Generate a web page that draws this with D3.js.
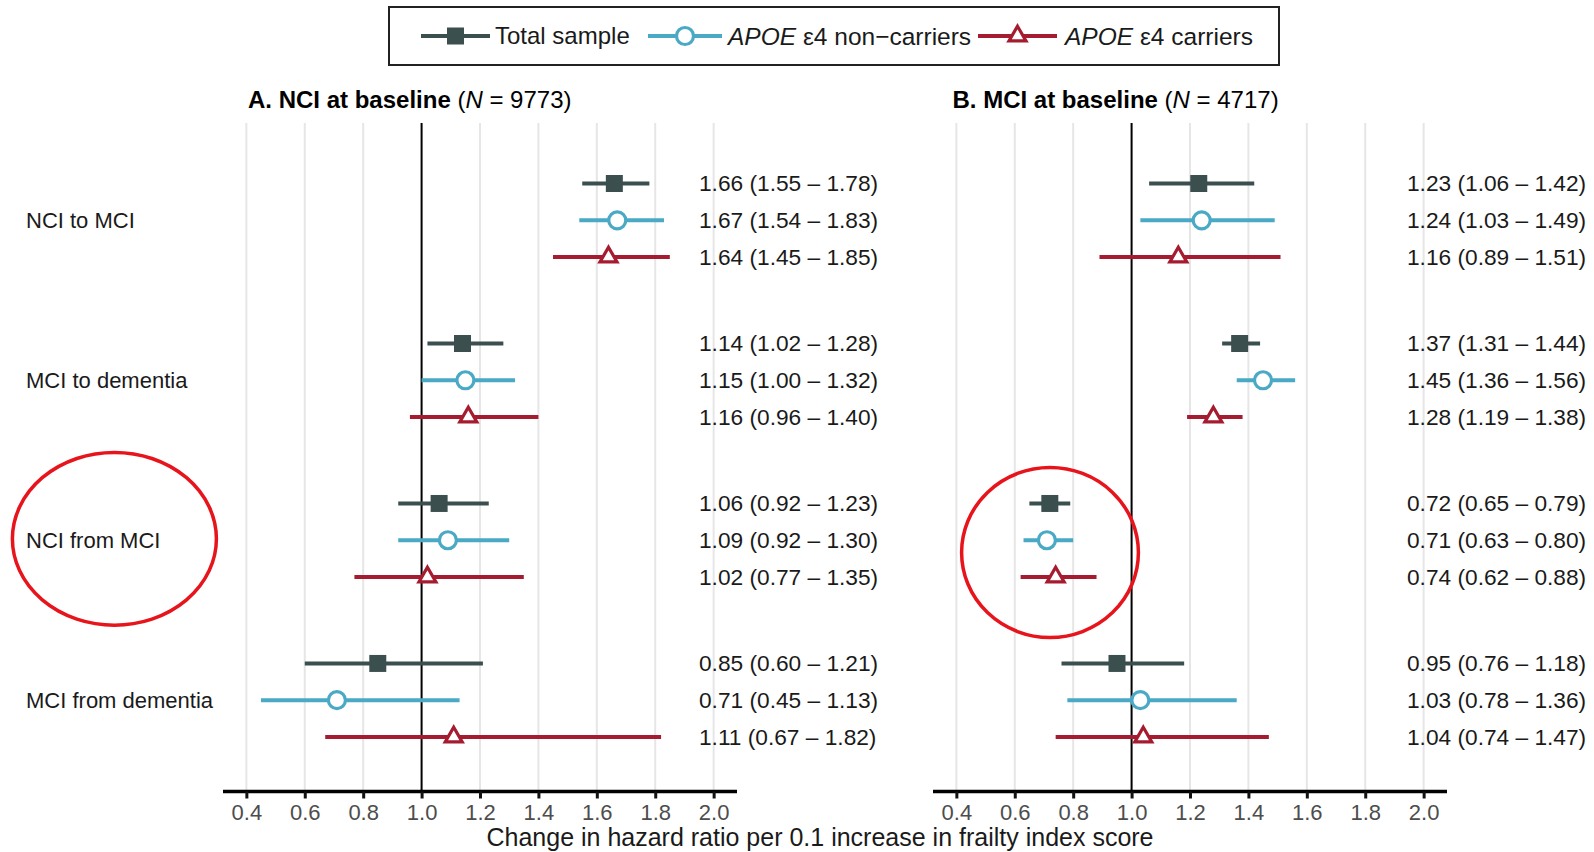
<!DOCTYPE html>
<meta charset="utf-8">
<style>
body { margin: 0; background: #fff; }
text { font-family: "Liberation Sans", Arial, sans-serif; }
.grid line { stroke: #e6e6e6; stroke-width: 2; }
.tick-label { fill: #4d4d4d; font-size: 22px; }
</style>
<body>
<div id="chart"></div>
<script src="https://cdn.jsdelivr.net/npm/d3@7"></script>
<script>
// data
var groups = ["NCI to MCI", "MCI to dementia", "NCI from MCI", "MCI from dementia"];
var seriesNames = ["Total sample", "non\u2212carriers", "carriers"];
var xTicks = [0.4, 0.6, 0.8, 1.0, 1.2, 1.4, 1.6, 1.8, 2.0];

// panel A: NCI at baseline (N = 9773)
var hrA = [[1.66, 1.67, 1.64], [1.14, 1.15, 1.16], [1.06, 1.09, 1.02], [0.85, 0.71, 1.11]];
var loA = [[1.55, 1.54, 1.45], [1.02, 1.00, 0.96], [0.92, 0.92, 0.77], [0.60, 0.45, 0.67]];
var hiA = [[1.78, 1.83, 1.85], [1.28, 1.32, 1.40], [1.23, 1.30, 1.35], [1.21, 1.13, 1.82]];

// panel B: MCI at baseline (N = 4717)
var hrB = [[1.23, 1.24, 1.16], [1.37, 1.45, 1.28], [0.72, 0.71, 0.74], [0.95, 1.03, 1.04]];
var loB = [[1.06, 1.03, 0.89], [1.31, 1.36, 1.19], [0.65, 0.63, 0.62], [0.76, 0.78, 0.74]];
var hiB = [[1.42, 1.49, 1.51], [1.44, 1.56, 1.38], [0.79, 0.80, 0.88], [1.18, 1.36, 1.47]];

var colors = ["#3c4f4f", "#4aa9c5", "#a51c30"];

var W = 1594, H = 852;
var svg = d3.select("#chart").append("svg")
    .attr("width", W).attr("height", H);

// row positions: 3 rows per group, gap between groups
var groupStep = 4.35;
var y = d3.scaleLinear().domain([0, 3 * groupStep + 2]).range([183.5, 737]);
function rowPos(g, i) { return y(g * groupStep + i); }

var axisY = 791.5, gridTop = 123;

function symbolFor(i) {
    if (i == 0) return d3.symbol().type(d3.symbolSquare).size(289)();
    if (i == 1) return d3.symbol().type(d3.symbolCircle).size(Math.PI * 8.5 * 8.5)();
    return d3.symbol().type(d3.symbolTriangle).size(125)();
}
function styleMarker(sel, i) {
    if (i == 0) sel.attr("fill", colors[0]).attr("stroke", "none");
    else sel.attr("fill", "#fff").attr("stroke", colors[i]).attr("stroke-width", 3.2);
}

function drawPanel(x0, x1, hr, lo, hi, title, n, titleX, labelX) {
    var x = d3.scaleLinear().domain([0.32, 2.08]).range([x0, x1]);
    var g = svg.append("g");

    g.append("g").attr("class", "grid").selectAll("line")
        .data(xTicks.filter(function(t) { return t != 1.0; }))
        .enter().append("line")
        .attr("x1", function(d) { return x(d); }).attr("x2", function(d) { return x(d); })
        .attr("y1", gridTop).attr("y2", axisY);

    g.append("line")
        .attr("x1", x(1)).attr("x2", x(1))
        .attr("y1", gridTop).attr("y2", axisY)
        .attr("stroke", "#000").attr("stroke-width", 2);

    // axis
    var axis = d3.axisBottom(x).tickValues(xTicks).tickSize(7).tickPadding(6)
        .tickFormat(d3.format(".1f"));
    var ax = g.append("g").attr("transform", "translate(0," + axisY + ")").call(axis);
    ax.select(".domain").attr("stroke", "#000").attr("stroke-width", 3.5)
        .attr("d", "M" + x0 + ",0H" + x1);
    ax.selectAll(".tick line").attr("stroke", "#111").attr("stroke-width", 3);
    ax.selectAll(".tick text").attr("class", "tick-label")
        .style("font-family", "'Liberation Sans', Arial, sans-serif");

    // panel title
    var t = g.append("text").attr("x", titleX).attr("y", 108).style("font-size", "24px");
    t.append("tspan").attr("font-weight", "bold").text(title + " ");
    t.append("tspan").text("(");
    t.append("tspan").attr("font-style", "italic").text("N");
    t.append("tspan").text(" = " + n + ")");

    // rows
    var rows = [];
    hr.forEach(function(grp, gi) {
        grp.forEach(function(v, si) {
            rows.push({g: gi, s: si, hr: v, lo: lo[gi][si], hi: hi[gi][si]});
        });
    });

    var r = g.selectAll(".row").data(rows).enter().append("g").attr("class", "row");
    r.append("line")
        .attr("x1", function(d) { return x(d.lo); })
        .attr("x2", function(d) { return x(d.hi); })
        .attr("y1", function(d) { return rowPos(d.g, d.s); })
        .attr("y2", function(d) { return rowPos(d.g, d.s); })
        .attr("stroke", function(d) { return colors[d.s]; })
        .attr("stroke-width", 4);
    r.each(function(d) {
        var p = d3.select(this).append("path")
            .attr("d", symbolFor(d.s))
            .attr("transform", "translate(" + x(d.hr) + "," + rowPos(d.g, d.s) + ")");
        styleMarker(p, d.s);
    });
    r.append("text")
        .attr("x", labelX)
        .attr("y", function(d) { return rowPos(d.g, d.s); })
        .attr("dy", "0.35em")
        .style("font-size", "22.7px")
        .attr("fill", "#1a1a1a")
        .text(function(d) {
            return d.hr.toFixed(2) + " (" + d.lo.toFixed(2) + " \u2013 " + d.hi.toFixed(2) + ")";
        });
}

drawPanel(223, 737, hrA, loA, hiA, "A. NCI at baseline", 9773, 248, 699);
drawPanel(933, 1447, hrB, loB, hiB, "B. MCI at baseline", 4717, 952.5, 1407);

// group labels
svg.selectAll(".glabel").data(groups).enter().append("text")
    .attr("x", 26)
    .attr("y", function(d, i) { return rowPos(i, 1); })
    .attr("dy", "0.35em")
    .style("font-size", "22px")
    .attr("fill", "#1a1a1a")
    .text(function(d) { return d; });

// x axis title
svg.append("text")
    .attr("x", 820).attr("y", 846)
    .attr("text-anchor", "middle")
    .style("font-size", "25px")
    .attr("fill", "#1a1a1a")
    .text("Change in hazard ratio per 0.1 increase in frailty index score");

// legend
var leg = svg.append("g");
leg.append("rect").attr("x", 389).attr("y", 7).attr("width", 890).attr("height", 58)
    .attr("fill", "#fff").attr("stroke", "#222").attr("stroke-width", 2);
var keyX = [421, 648, 978];
var keyLen = [69, 74, 79];
var keyTextX = [495, 728, 1065];
seriesNames.forEach(function(name, i) {
    var k = leg.append("g").attr("transform", "translate(" + keyX[i] + ",36)");
    k.append("line").attr("x1", 0).attr("x2", keyLen[i]).attr("stroke", colors[i]).attr("stroke-width", 4);
    var p = k.append("path").attr("d", symbolFor(i)).attr("transform", "translate(" + keyLen[i] / 2 + ",0)");
    styleMarker(p, i);
    var t = k.append("text").attr("x", keyTextX[i] - keyX[i]).attr("dy", "0.35em")
        .attr("fill", "#1a1a1a");
    if (i == 0) t.style("font-size", "24px").text(name);
    else {
        t.style("font-size", "24.5px");
        t.append("tspan").attr("font-style", "italic").text("APOE");
        t.append("tspan").text(" \u03b54 " + name);
    }
});

// red annotation circles
var marks = [{cx: 114.4, cy: 538.8, rx: 102, ry: 86.4}, {cx: 1050, cy: 552.5, rx: 88.4, ry: 85}];
svg.selectAll(".mark").data(marks).enter().append("ellipse")
    .attr("cx", function(d) { return d.cx; }).attr("cy", function(d) { return d.cy; })
    .attr("rx", function(d) { return d.rx; }).attr("ry", function(d) { return d.ry; })
    .attr("fill", "none").attr("stroke", "#e8141c").attr("stroke-width", 3.5);
</script>
</body>
